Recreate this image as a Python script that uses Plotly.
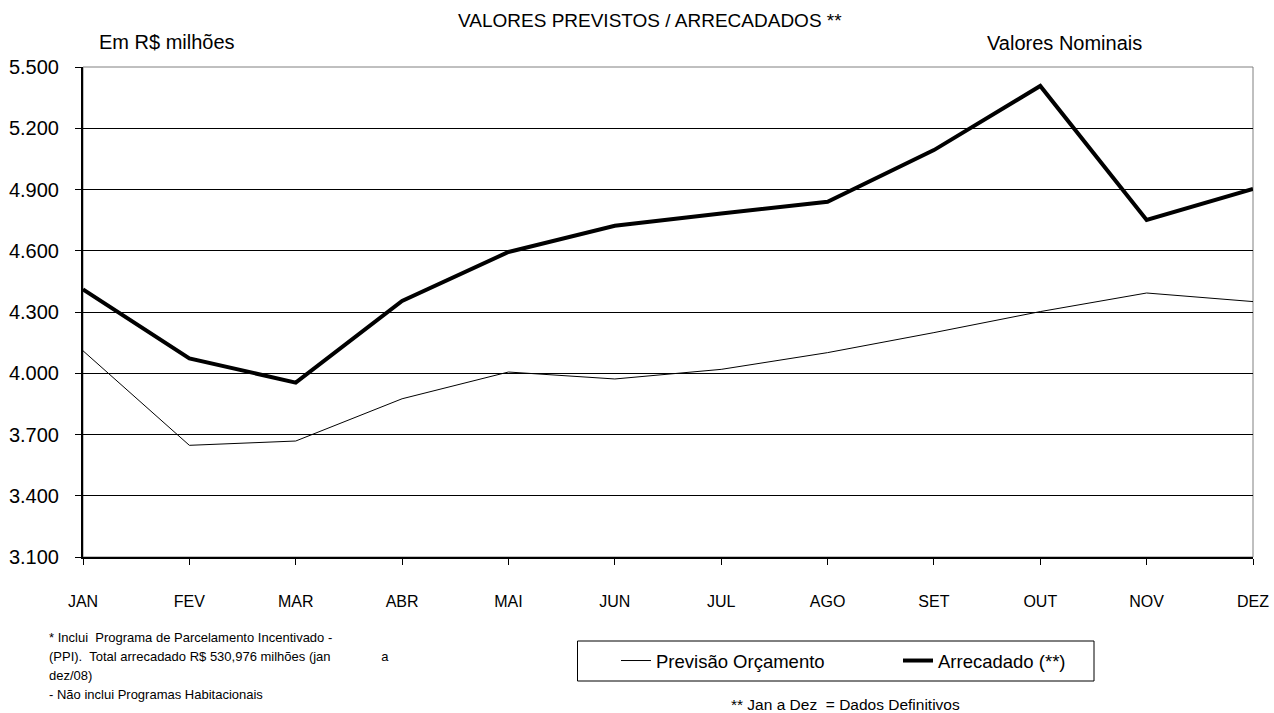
import plotly.graph_objects as go

months = ["JAN", "FEV", "MAR", "ABR", "MAI", "JUN", "JUL", "AGO", "SET", "OUT", "NOV", "DEZ"]
previsao = [4110, 3647, 3668, 3875, 4006, 3972, 4019, 4101, 4199, 4302, 4393, 4351]
arrecadado = [4411, 4073, 3954, 4354, 4594, 4722, 4783, 4840, 5093, 5407, 4751, 4903]
y_ticks = [3100, 3400, 3700, 4000, 4300, 4600, 4900, 5200, 5500]
y_tick_text = ["3.100", "3.400", "3.700", "4.000", "4.300", "4.600", "4.900", "5.200", "5.500"]

W, H = 1274, 713
L, R, T, B = 83, 1253, 67, 557  # plot area in page pixels
FONT = "Liberation Sans, Arial, sans-serif"
NB = "\u00a0"


def px(x):
    return (x - L) / (R - L)


def py(y):
    return (B - y) / (B - T)


xs = list(range(len(months)))

line2 = "(PPI)." + NB + " Total arrecadado R$ 530,976 milhões (jan" + NB * 14 + "a"

fig = go.Figure()
fig.add_trace(go.Scatter(x=xs, y=previsao, mode="lines", name="Previsão Orçamento",
                         line=dict(color="black", width=1), cliponaxis=False))
fig.add_trace(go.Scatter(x=xs, y=arrecadado, mode="lines", name="Arrecadado (**)",
                         line=dict(color="black", width=4), cliponaxis=False))

FN = 13
annotations = [
    dict(text="VALORES PREVISTOS / ARRECADADOS **", x=px(650), y=py(21), xanchor="center", yanchor="middle",
         font=dict(size=19, family=FONT, color="black")),
    dict(text="Em R$ milhões", x=px(97), y=py(42), xanchor="left", yanchor="middle",
         font=dict(size=20, family=FONT, color="black")),
    dict(text="Valores Nominais", x=px(985), y=py(43), xanchor="left", yanchor="middle",
         font=dict(size=20, family=FONT, color="black")),
    dict(text="* Inclui" + NB + " Programa de Parcelamento Incentivado -", x=px(47), y=py(637), xanchor="left",
         yanchor="middle", font=dict(size=FN, family=FONT, color="black")),
    dict(text=line2, x=px(47), y=py(656), xanchor="left", yanchor="middle",
         font=dict(size=FN, family=FONT, color="black")),
    dict(text="dez/08)", x=px(47), y=py(675), xanchor="left", yanchor="middle",
         font=dict(size=FN, family=FONT, color="black")),
    dict(text="- Não inclui Programas Habitacionais", x=px(47), y=py(694), xanchor="left", yanchor="middle",
         font=dict(size=FN, family=FONT, color="black")),
    dict(text="** Jan a Dez" + NB + " = Dados Definitivos", x=px(845), y=py(704), xanchor="center",
         yanchor="middle", font=dict(size=15.5, family=FONT, color="black")),
]
for a in annotations:
    a.update(xref="paper", yref="paper", showarrow=False)

fig.update_layout(
    width=W, height=H,
    margin=dict(l=L, r=W - R, t=T, b=H - B, pad=0, autoexpand=False),
    paper_bgcolor="white", plot_bgcolor="white",
    font=dict(family=FONT, color="black"),
    showlegend=True,
    legend=dict(orientation="h", x=px(616), y=py(661), xanchor="left", yanchor="middle",
                borderwidth=0, bgcolor="rgba(0,0,0,0)",
                font=dict(size=18.5, family=FONT, color="black"),
                entrywidth=237, itemwidth=30),
    annotations=annotations,
    shapes=[
        dict(type="rect", xref="paper", yref="paper", x0=0, x1=1, y0=0, y1=1,
             line=dict(color="#808080", width=1), layer="below"),
        dict(type="rect", xref="paper", yref="paper", x0=px(577.5), x1=px(1094), y0=py(681), y1=py(641),
             line=dict(color="black", width=1), layer="above"),
    ],
)
fig.update_xaxes(range=[0, 11], tickmode="array", tickvals=xs, ticktext=months, automargin=False,
                 showgrid=False, zeroline=False, showline=True, linecolor="black", linewidth=2,
                 ticks="outside", ticklen=6, tickcolor="black", tickwidth=1, ticklabeloverflow="allow",
                 ticklabelstandoff=23, tickfont=dict(size=16, family=FONT, color="black"))
fig.update_yaxes(range=[3100, 5500], tickmode="array", tickvals=y_ticks, ticktext=y_tick_text, automargin=False,
                 showgrid=True, gridcolor="black", gridwidth=1, zeroline=False,
                 showline=True, linecolor="black", linewidth=2,
                 ticks="outside", ticklen=6, tickcolor="black", tickwidth=1, ticklabeloverflow="allow",
                 ticklabelstandoff=12, tickfont=dict(size=20, family=FONT, color="black"))

fig.write_html("out.html", config={"displayModeBar": False},
               post_script="document.body.style.margin='0px';document.body.style.overflow='hidden';")
